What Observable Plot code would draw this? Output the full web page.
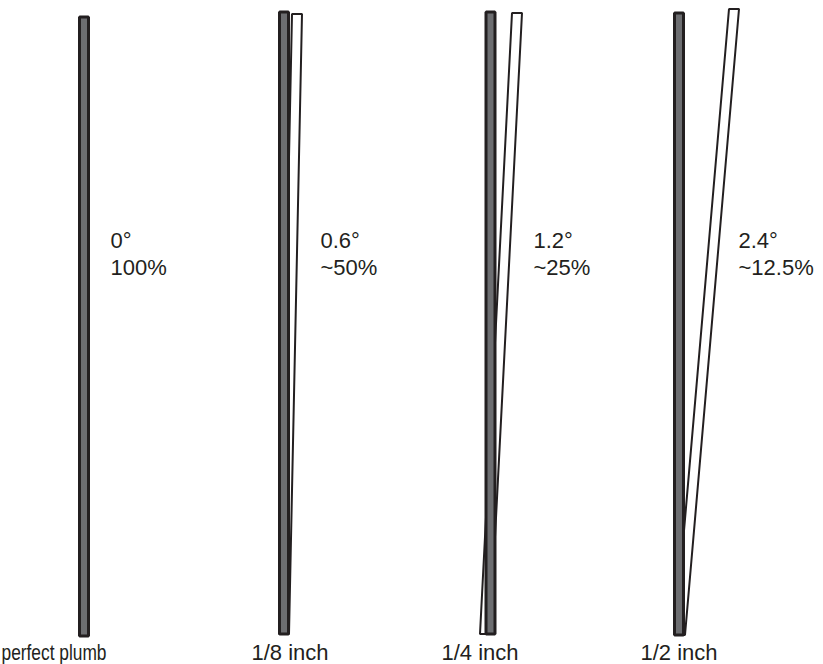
<!DOCTYPE html>
<html>
<head>
<meta charset="utf-8">
<script src="https://cdn.jsdelivr.net/npm/d3@7"></script>
<script src="https://cdn.jsdelivr.net/npm/@observablehq/plot@0.6"></script>
<style>
  html, body { margin: 0; padding: 0; background: #ffffff; }
  #chart svg { display: block; }
</style>
</head>
<body>
<div id="chart"></div>
<script>
// --- data ---
const labels = ["perfect plumb", "1/8 inch", "1/4 inch", "1/2 inch"];
const degrees = ["0°", "0.6°", "1.2°", "2.4°"];
const shares = ["100%", "~50%", "~25%", "~12.5%"];
// plumb (vertical) stick: centre, top and bottom, in chart units
const plumbX = [84, 284, 490.5, 679];
const plumbTop = [17, 12, 12, 13];
const plumbBottom = [636, 634, 634, 635];
// tilted stick: centre at the bottom and at the top, top end
const tiltBottomX = [null, 284, 485, 680];
const tiltTopX = [null, 297, 517, 734];
const tiltTop = [null, 14, 13, 9];
// where the texts sit along x
const labelX = [1, 251, 441, 640];
const noteX = [110, 320, 533, 738];

const W = 823, H = 664;
const ink = "#231f20";
const plumbHalf = 4.5, tiltHalf = 5;

const plumbRows = labels.flatMap((l, i) => [
  {id: l, y: plumbTop[i], x1: plumbX[i] - plumbHalf, x2: plumbX[i] + plumbHalf},
  {id: l, y: plumbBottom[i], x1: plumbX[i] - plumbHalf, x2: plumbX[i] + plumbHalf}
]);
const tiltRows = labels.flatMap((l, i) => tiltTopX[i] == null ? [] : [
  {id: l, y: tiltTop[i], x1: tiltTopX[i] - tiltHalf, x2: tiltTopX[i] + tiltHalf},
  {id: l, y: plumbBottom[i], x1: tiltBottomX[i] - tiltHalf, x2: tiltBottomX[i] + tiltHalf}
]);
const texts = labels.map((l, i) => ({label: l, lx: labelX[i], nx: noteX[i], deg: degrees[i], share: shares[i]}));

const chart = Plot.plot({
  width: W,
  height: H,
  margin: 0,
  x: {domain: [0, W], range: [0, W], axis: null},
  y: {domain: [0, H], range: [0, H], axis: null},
  style: {fontFamily: "'Liberation Sans', Arial, Helvetica, sans-serif", background: "#ffffff"},
  marks: [
    Plot.areaX(tiltRows, {y: "y", x1: "x1", x2: "x2", z: "id", fill: "#ffffff", stroke: ink, strokeWidth: 2, strokeLinejoin: "miter"}),
    Plot.areaX(plumbRows, {y: "y", x1: "x1", x2: "x2", z: "id", fill: "#6d6e71", stroke: ink, strokeWidth: 3, strokeLinejoin: "miter"}),
    Plot.text(texts, {x: "nx", y: () => 240, text: "deg", textAnchor: "start", fontSize: 22, fill: ink}),
    Plot.text(texts, {x: "nx", y: () => 267, text: "share", textAnchor: "start", fontSize: 22, fill: ink}),
    Plot.text(texts, {x: "lx", y: () => 652, text: "label", textAnchor: "start", fontSize: 22, fill: ink})
  ]
});
// the first bottom label is set narrower in the reference
d3.select(chart).selectAll("text")
  .filter(function () { return this.textContent === labels[0]; })
  .attr("textLength", 105)
  .attr("lengthAdjust", "spacingAndGlyphs");
document.getElementById("chart").append(chart);
</script>
</body>
</html>
